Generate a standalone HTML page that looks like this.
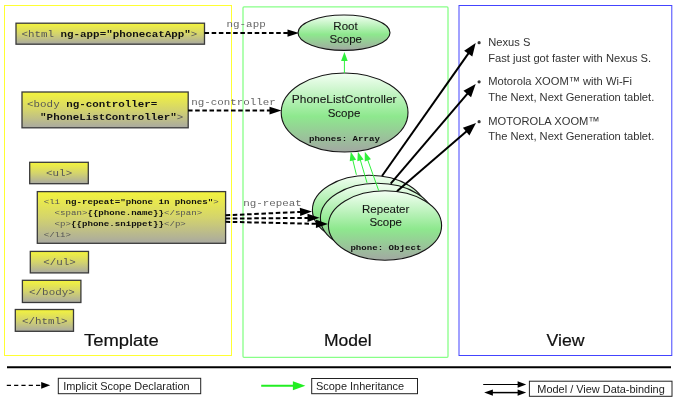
<!DOCTYPE html>
<html><head><meta charset="utf-8">
<style>
html,body{margin:0;padding:0;background:#fff;width:683px;height:411px;overflow:hidden}
svg{display:block;-webkit-font-smoothing:antialiased;will-change:transform}
text{white-space:pre}
.m{font-family:"Liberation Mono",monospace;}
.s{font-family:"Liberation Sans",sans-serif;}
.g{fill:#555}
.b{font-weight:bold;fill:#111}
</style></head><body>
<svg width="683" height="411" viewBox="0 0 683 411">
<defs>
<linearGradient id="yg" x1="0" y1="0" x2="0" y2="1">
<stop offset="0" stop-color="#f4f43c"/>
<stop offset="0.5" stop-color="#d4d46c"/>
<stop offset="1" stop-color="#a9a9a1"/>
</linearGradient>
<linearGradient id="gg" x1="0" y1="0" x2="0" y2="1">
<stop offset="0" stop-color="#f4fff4"/>
<stop offset="0.55" stop-color="#8ee88e"/>
<stop offset="1" stop-color="#a2a8a2"/>
</linearGradient>
</defs>
<rect x="4.5" y="5.5" width="227" height="350" fill="none" stroke="#ffff33" stroke-width="1"/>
<rect x="243" y="6.9" width="205" height="350.4" fill="none" stroke="#88ff88" stroke-width="1.3" rx="1"/>
<rect x="459" y="5.5" width="212.8" height="350" fill="none" stroke="#4444ff" stroke-width="1"/>
<g stroke="#3a3a3a" stroke-width="1.3" fill="url(#yg)">
<rect x="16" y="23.2" width="188.5" height="21"/>
<rect x="22" y="92" width="166.2" height="35.8"/>
<rect x="29.7" y="162.3" width="58.6" height="21.4"/>
<rect x="37.3" y="191.6" width="188.3" height="51.7"/>
<rect x="30.3" y="251.4" width="58.2" height="21.5"/>
<rect x="22.4" y="280.3" width="58.5" height="22.2"/>
<rect x="15.3" y="309.5" width="58.2" height="21.8"/>
</g>
<g class="m" font-size="10.86">
<text x="21.5" y="36.9" transform="matrix(1,0,0,0.88,0,4.428)"><tspan class="g">&lt;html </tspan><tspan class="b">ng-app="phonecatApp"</tspan><tspan class="g">&gt;</tspan></text>
<text x="27.1" y="107.2" transform="matrix(1,0,0,0.88,0,12.864)"><tspan class="g">&lt;body </tspan><tspan class="b">ng-controller=</tspan></text>
<text x="27.1" y="119.9" transform="matrix(1,0,0,0.88,0,14.388)"><tspan class="b">  "PhoneListController"</tspan><tspan class="g">&gt;</tspan></text>
<text x="46.1" y="175.7" class="g" transform="matrix(1,0,0,0.88,0,21.084)">&lt;ul&gt;</text>
<text x="43.3" y="265.2" class="g" transform="matrix(1,0,0,0.88,0,31.824)">&lt;/ul&gt;</text>
<text x="29.1" y="294.7" class="g" transform="matrix(1,0,0,0.88,0,35.364)">&lt;/body&gt;</text>
<text x="21.9" y="323.8" class="g" transform="matrix(1,0,0,0.88,0,38.856)">&lt;/html&gt;</text>
</g>
<g class="m" font-size="9.12">
<text x="43.7" y="203.6" transform="matrix(1,0,0,0.88,0,24.432)"><tspan class="g">&lt;li </tspan><tspan class="b">ng-repeat="phone in phones"</tspan><tspan class="g">&gt;</tspan></text>
<text x="43.7" y="214.8" transform="matrix(1,0,0,0.88,0,25.776)"><tspan class="g">  &lt;span&gt;</tspan><tspan class="b">{{phone.name}}</tspan><tspan class="g">&lt;/span&gt;</tspan></text>
<text x="43.7" y="226" transform="matrix(1,0,0,0.88,0,27.120)"><tspan class="g">  &lt;p&gt;</tspan><tspan class="b">{{phone.snippet}}</tspan><tspan class="g">&lt;/p&gt;</tspan></text>
<text x="43.7" y="236.9" class="g" transform="matrix(1,0,0,0.88,0,28.428)">&lt;/li&gt;</text>
</g>
<g stroke="#151515" stroke-width="1.1" fill="url(#gg)">
<ellipse cx="344" cy="32.7" rx="46" ry="17.7"/>
<ellipse cx="344.6" cy="112.5" rx="63.4" ry="39.5"/>
<ellipse cx="369" cy="210" rx="56.6" ry="34.7"/>
<ellipse cx="377" cy="218" rx="56.6" ry="34.7"/>
<ellipse cx="385" cy="225.5" rx="56.6" ry="34.7"/>
</g>
<g class="s" font-size="11.5" fill="#141414" stroke="#141414" stroke-width="0.08" text-anchor="middle">
<text x="345.5" y="29.5">Root</text>
<text x="345.7" y="43">Scope</text>
<text x="344.2" y="103.2" textLength="104.7" lengthAdjust="spacingAndGlyphs">PhoneListController</text>
<text x="344" y="116.6">Scope</text>
<text x="385.7" y="212.6">Repeater</text>
<text x="385.7" y="226.1">Scope</text>
</g>
<g class="m b" font-size="9.1" text-anchor="middle">
<text x="344.4" y="140.9" transform="matrix(1,0,0,0.88,0,16.908)">phones: Array</text>
<text x="385.9" y="250.2" transform="matrix(1,0,0,0.88,0,30.024)">phone: Object</text>
</g>
<line x1="204.5" y1="33.1" x2="288.50" y2="33.10" stroke="#000" stroke-width="2" stroke-dasharray="4.55 2.62"/>
<polygon points="299.00,33.10 287.50,36.80 287.50,29.40" fill="#000"/>
<line x1="188" y1="110.6" x2="270.50" y2="110.60" stroke="#000" stroke-width="2" stroke-dasharray="4.55 2.62"/>
<polygon points="281.50,110.60 269.50,114.40 269.50,106.80" fill="#000"/>
<line x1="225.6" y1="215.3" x2="301.01" y2="211.90" stroke="#000" stroke-width="2" stroke-dasharray="4.55 2.62"/>
<polygon points="312.00,211.40 300.20,216.04 299.83,207.85" fill="#000"/>
<line x1="225.6" y1="218.6" x2="308.50" y2="217.89" stroke="#000" stroke-width="2" stroke-dasharray="4.55 2.62"/>
<polygon points="319.50,217.80 307.54,222.00 307.47,213.80" fill="#000"/>
<line x1="225.6" y1="221.8" x2="317.00" y2="223.85" stroke="#000" stroke-width="2" stroke-dasharray="4.55 2.62"/>
<polygon points="328.00,224.10 315.91,227.93 316.10,219.73" fill="#000"/>
<g class="m" font-size="10.86" fill="#666">
<text x="226.6" y="27.2" transform="matrix(1,0,0,0.88,0,3.264)">ng-app</text>
<text x="191.2" y="105" transform="matrix(1,0,0,0.88,0,12.600)">ng-controller</text>
<text x="243.2" y="206" transform="matrix(1,0,0,0.88,0,24.720)">ng-repeat</text>
</g>
<line x1="344.4" y1="73" x2="344.40" y2="60.00" stroke="#30f03c" stroke-width="1"/>
<polygon points="344.40,52.00 347.70,61.00 341.10,61.00" fill="#30f03c"/>
<line x1="356.4" y1="174.8" x2="352.69" y2="159.57" stroke="#30f03c" stroke-width="1"/>
<polygon points="350.80,151.80 356.14,159.76 349.72,161.33" fill="#30f03c"/>
<line x1="367" y1="182.7" x2="360.16" y2="159.47" stroke="#30f03c" stroke-width="1"/>
<polygon points="357.90,151.80 363.61,159.50 357.28,161.37" fill="#30f03c"/>
<line x1="378.7" y1="190.6" x2="367.50" y2="159.33" stroke="#30f03c" stroke-width="1"/>
<polygon points="364.80,151.80 370.94,159.16 364.73,161.39" fill="#30f03c"/>
<line x1="382" y1="176" x2="468.79" y2="52.81" stroke="#000" stroke-width="2"/>
<polygon points="475.70,43.00 472.30,56.51 464.13,50.75" fill="#000"/>
<line x1="390.7" y1="183.6" x2="467.91" y2="93.13" stroke="#000" stroke-width="2"/>
<polygon points="475.70,84.00 471.06,97.13 463.46,90.64" fill="#000"/>
<line x1="397" y1="191.3" x2="466.92" y2="130.94" stroke="#000" stroke-width="2"/>
<polygon points="476.00,123.10 469.43,135.38 462.89,127.81" fill="#000"/>
<g fill="#333">
<circle cx="479.1" cy="42.7" r="1.6"/>
<circle cx="479.1" cy="81.8" r="1.6"/>
<circle cx="479.1" cy="121.7" r="1.6"/>
</g>
<g class="s" font-size="11.7" fill="#333">
<text x="488.2" y="45.5" textLength="42.14" lengthAdjust="spacingAndGlyphs">Nexus S</text>
<text x="488.2" y="61.5" textLength="162.97" lengthAdjust="spacingAndGlyphs">Fast just got faster with Nexus S.</text>
<text x="488.2" y="84.7" textLength="143.72" lengthAdjust="spacingAndGlyphs">Motorola XOOM™ with Wi-Fi</text>
<text x="488.2" y="100.6" textLength="166.08" lengthAdjust="spacingAndGlyphs">The Next, Next Generation tablet.</text>
<text x="488.2" y="124.5" textLength="111.31" lengthAdjust="spacingAndGlyphs">MOTOROLA XOOM™</text>
<text x="488.2" y="140.2" textLength="166.08" lengthAdjust="spacingAndGlyphs">The Next, Next Generation tablet.</text>
</g>
<g class="s" font-size="16" fill="#111" stroke="#111" stroke-width="0.2">
<text x="84" y="345.5" textLength="74.6" lengthAdjust="spacingAndGlyphs">Template</text>
<text x="324" y="346.2" textLength="47.6" lengthAdjust="spacingAndGlyphs">Model</text>
<text x="546.5" y="346.2" textLength="38" lengthAdjust="spacingAndGlyphs">View</text>
</g>
<line x1="7" y1="367.2" x2="671" y2="367.2" stroke="#000" stroke-width="2"/>
<line x1="6.8" y1="385.3" x2="42.20" y2="385.30" stroke="#000" stroke-width="1.2" stroke-dasharray="4.2 3.1"/>
<polygon points="50.20,385.30 41.20,388.70 41.20,381.90" fill="#000"/>
<rect x="58.3" y="378.3" width="142.4" height="15.4" fill="none" stroke="#222" stroke-width="1"/>
<line x1="261.2" y1="385.7" x2="293.90" y2="385.70" stroke="#22ee22" stroke-width="2"/>
<polygon points="305.40,385.70 292.90,390.20 292.90,381.20" fill="#22ee22"/>
<rect x="311.7" y="378.5" width="105.8" height="15.2" fill="none" stroke="#222" stroke-width="1"/>
<line x1="483.2" y1="384.5" x2="518.60" y2="384.50" stroke="#000" stroke-width="1"/>
<polygon points="526.20,384.50 517.60,387.70 517.60,381.30" fill="#000"/>
<line x1="492" y1="392.6" x2="518.60" y2="392.60" stroke="#000" stroke-width="1.5"/>
<polygon points="526.20,392.60 517.60,395.80 517.60,389.40" fill="#000"/>
<polygon points="484.2,392.6 492.9,389.4 492.9,395.8" fill="#000"/>
<rect x="529.4" y="381.2" width="142.6" height="15.1" fill="none" stroke="#222" stroke-width="1"/>
<g class="s" font-size="10.95" fill="#222">
<text x="63.2" y="389.6">Implicit Scope Declaration</text>
<text x="316" y="389.9">Scope Inheritance</text>
<text x="537.3" y="393.4">Model / View Data-binding</text>
</g>
</svg>
</body></html>
